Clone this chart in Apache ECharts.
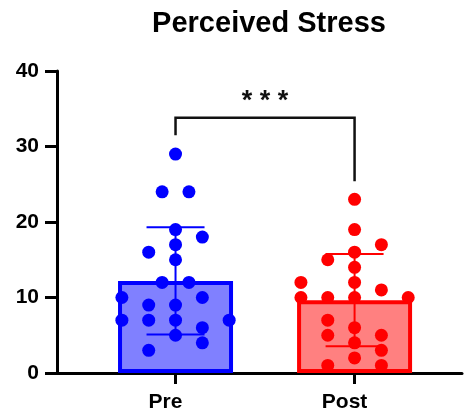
<!DOCTYPE html>
<html>
<head>
<meta charset="utf-8">
<script src="https://cdn.jsdelivr.net/npm/echarts@6/dist/echarts.min.js"></script>
<style>html,body{margin:0;padding:0;background:#fff}#c{width:465px;height:415px}</style>
</head>
<body>
<div id="c"></div>
<script>
// ---- data ----
const categories = ['Pre', 'Post'];
const groupPos = [1, 2];
const yTicks = [0, 10, 20, 30, 40];
// individual values and their swarm slot (column index in the scatter layout)
const preValues  = [29, 24, 24, 19, 18, 17, 16, 15, 12, 12, 10, 10, 9, 9, 7, 7, 7, 7, 6, 5, 4, 3];
const preSlots   = [ 0, -1,  1,  0,  2,  0, -2,  0, -1,  1, -4,  2, -2, 0, -4, -2, 0, 4, 2, 0, 2, -2];
const postValues = [23, 19, 17, 16, 15, 14, 12, 12, 11, 10, 10, 10, 10, 7, 6, 5, 5, 4, 3, 2, 1, 1];
const postSlots  = [ 0,  0,  2,  0, -2,  0, -4,  0,  2, -4, -2,  0,  4, -2, 0, -2, 2, 0, 2, 0, -2, 2];
const means = [12.2, 9.65];
const sds   = [7.1, 6.1];
const bracket = { from: 1, to: 2, top: 33.8, leftEnd: 31.5, rightEnd: 25.4, label: '* * *', labelY: 35.9 };

// ---- styles ----
const FONT = "'Liberation Sans', Arial, sans-serif";
const strokeCols = ['#0000FF', '#FF0000'];
const fillCols = ['#8080FF', '#FF8080'];
const slotStep = 0.0749;

function pts(vals, slots, g) {
  return vals.map((v, i) => [groupPos[g] + slots[i] * slotStep, v]);
}

const chart = echarts.init(document.getElementById('c'), null, { renderer: 'canvas' });
chart.setOption({
  animation: false,
  backgroundColor: '#fff',
  title: {
    text: 'Perceived Stress', left: 264, top: 4, textAlign: 'center',
    textStyle: { fontFamily: FONT, fontWeight: 'bold', fontSize: 29, color: '#000' }
  },
  grid: { left: 57, right: 3, top: 71, bottom: 42 },
  xAxis: {
    type: 'value', min: 0.338, max: 2.6,
    splitLine: { show: false },
    axisLine: { show: true, lineStyle: { color: '#000', width: 3 } },
    axisTick: { show: true, customValues: groupPos, length: 11, lineStyle: { color: '#000', width: 3 } },
    axisLabel: {
      customValues: groupPos, margin: 19,
      formatter: v => categories[Math.round(v) - 1],
      fontFamily: FONT, fontWeight: 'bold', fontSize: 21, color: '#000',
      padding: [0, 20, 0, 0]
    }
  },
  yAxis: {
    type: 'value', min: yTicks[0], max: yTicks[yTicks.length - 1], interval: 10,
    splitLine: { show: false },
    axisLine: { show: true, lineStyle: { color: '#000', width: 3 } },
    axisTick: { show: true, length: 12, lineStyle: { color: '#000', width: 3 } },
    axisLabel: { margin: 18, fontFamily: FONT, fontWeight: 'bold', fontSize: 21, color: '#000' }
  },
  series: [
    {
      type: 'bar', barWidth: 115, z: 2,
      data: means.map((m, i) => ({
        value: [groupPos[i], m],
        itemStyle: { color: fillCols[i], borderColor: strokeCols[i], borderWidth: 4 }
      }))
    },
    {
      type: 'custom', z: 3,
      data: means.map((m, i) => [groupPos[i], m, sds[i], i]),
      renderItem: function (params, api) {
        const x = api.value(0), m = api.value(1), s = api.value(2), g = api.value(3);
        const top = api.coord([x, m + s]);
        const bot = api.coord([x, m - s]);
        const hw = 29;
        const st = { stroke: strokeCols[g], lineWidth: 2 };
        return {
          type: 'group', children: [
            { type: 'line', shape: { x1: top[0], y1: top[1], x2: bot[0], y2: bot[1] }, style: st },
            { type: 'line', shape: { x1: top[0] - hw, y1: top[1], x2: top[0] + hw, y2: top[1] }, style: st },
            { type: 'line', shape: { x1: bot[0] - hw, y1: bot[1], x2: bot[0] + hw, y2: bot[1] }, style: st }
          ]
        };
      }
    },
    {
      type: 'scatter', z: 4, symbolSize: 13,
      itemStyle: { color: strokeCols[0], opacity: 1 },
      data: pts(preValues, preSlots, 0)
    },
    {
      type: 'scatter', z: 4, symbolSize: 13,
      itemStyle: { color: strokeCols[1], opacity: 1 },
      data: pts(postValues, postSlots, 1)
    },
    {
      type: 'custom', z: 5,
      data: [[bracket.from, bracket.to, bracket.top, bracket.leftEnd, bracket.rightEnd, bracket.labelY]],
      renderItem: function (params, api) {
        const a = api.coord([api.value(0), api.value(2)]);
        const b = api.coord([api.value(1), api.value(2)]);
        const la = api.coord([api.value(0), api.value(3)]);
        const rb = api.coord([api.value(1), api.value(4)]);
        const t = api.coord([(api.value(0) + api.value(1)) / 2, api.value(5)]);
        return {
          type: 'group', children: [
            { type: 'polyline', shape: { points: [la, a, b, rb] }, style: { stroke: '#111', lineWidth: 2.5, fill: null } },
            { type: 'text', x: t[0], y: t[1], style: { text: bracket.label, fontFamily: FONT, fontWeight: 'bold', fontSize: 27, fill: '#111', align: 'center', verticalAlign: 'middle' } }
          ]
        };
      }
    }
  ]
});
</script>
</body>
</html>
